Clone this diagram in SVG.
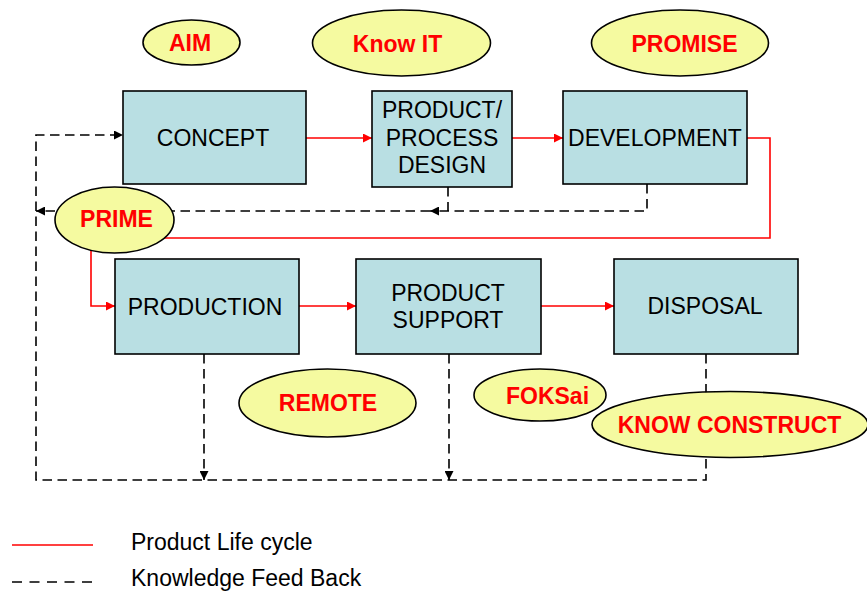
<svg xmlns="http://www.w3.org/2000/svg" width="867" height="591" viewBox="0 0 867 591">
<style>
.box{fill:#B9DFE3;stroke:#000;stroke-width:1.6}
.ell{fill:#F5FAA0;stroke:#000;stroke-width:1.6}
.bt{font-family:"Liberation Sans",Arial,sans-serif;font-size:23px;fill:#000;text-anchor:middle}
.et{font-family:"Liberation Sans",Arial,sans-serif;font-size:23px;font-weight:bold;fill:#FF0000;text-anchor:middle}
.lt{font-family:"Liberation Sans",Arial,sans-serif;font-size:23px;fill:#000}
.red{fill:none;stroke:#FF0000;stroke-width:1.6}
.dash{fill:none;stroke:#000;stroke-width:1.6;stroke-dasharray:9.5 5.5}
</style>
<defs>
<marker id="ar" viewBox="0 0 10 10" refX="10" refY="5" markerWidth="10" markerHeight="9" markerUnits="userSpaceOnUse" orient="auto"><path d="M0,0 L10,5 L0,10 z" fill="#FF0000"/></marker>
<marker id="ak" viewBox="0 0 10 10" refX="10" refY="5" markerWidth="11" markerHeight="9" markerUnits="userSpaceOnUse" orient="auto"><path d="M0,0 L10,5 L0,10 z" fill="#000"/></marker>
</defs>
<g id="connectors">
<path class="red" d="M306,138 H372" marker-end="url(#ar)"/>
<path class="red" d="M512,138 H563" marker-end="url(#ar)"/>
<path class="red" d="M747,138 H770 V238 H91 V306 H115" marker-end="url(#ar)"/>
<path class="red" d="M299,306 H356" marker-end="url(#ar)"/>
<path class="red" d="M541,306 H614" marker-end="url(#ar)"/>
<path class="dash" d="M647,184 V211 H430" marker-end="url(#ak)"/>
<path class="dash" d="M448,187 V211"/>
<path class="dash" d="M430,211 H36" marker-end="url(#ak)"/>
<path class="dash" d="M706,354 V480 H36 V135 H123" marker-end="url(#ak)"/>
<path class="dash" d="M204,354 V480" marker-end="url(#ak)"/>
<path class="dash" d="M449,354 V480" marker-end="url(#ak)"/>
</g>
<g id="concept"><rect class="box" x="123" y="91" width="183" height="93"/><text class="bt" x="213" y="146">CONCEPT</text></g>
<g id="design"><rect class="box" x="372" y="91" width="140" height="96"/><text class="bt" x="442" y="118">PRODUCT/</text><text class="bt" x="442" y="146">PROCESS</text><text class="bt" x="442" y="173">DESIGN</text></g>
<g id="development"><rect class="box" x="563" y="91" width="184" height="93"/><text class="bt" x="655" y="146">DEVELOPMENT</text></g>
<g id="production"><rect class="box" x="115" y="259" width="184" height="95"/><text class="bt" x="205" y="315">PRODUCTION</text></g>
<g id="support"><rect class="box" x="356" y="259" width="185" height="95"/><text class="bt" x="448" y="301">PRODUCT</text><text class="bt" x="448" y="328">SUPPORT</text></g>
<g id="disposal"><rect class="box" x="614" y="259" width="184" height="95"/><text class="bt" x="705" y="314">DISPOSAL</text></g>
<g id="aim"><ellipse class="ell" cx="191.5" cy="42.5" rx="48.5" ry="22.5"/><text class="et" x="190" y="51">AIM</text></g>
<g id="knowit"><ellipse class="ell" cx="401.5" cy="43" rx="89" ry="33"/><text class="et" x="397.5" y="52">Know IT</text></g>
<g id="promise"><ellipse class="ell" cx="680" cy="43" rx="88.5" ry="33"/><text class="et" x="684.5" y="52">PROMISE</text></g>
<g id="prime"><ellipse class="ell" cx="114.5" cy="220" rx="59.5" ry="33"/><text class="et" x="116.5" y="227">PRIME</text></g>
<g id="remote"><ellipse class="ell" cx="327.5" cy="403" rx="88.5" ry="34"/><text class="et" x="328" y="411">REMOTE</text></g>
<g id="foksai"><ellipse class="ell" cx="540" cy="395" rx="66" ry="26"/><text class="et" x="547.5" y="404">FOKSai</text></g>
<g id="knowconstruct"><ellipse class="ell" cx="730" cy="424.5" rx="138" ry="33"/><text class="et" x="729.5" y="433">KNOW CONSTRUCT</text></g>
<g id="legend">
<line x1="12" y1="545" x2="93" y2="545" stroke="#FF0000" stroke-width="1.6"/>
<text class="lt" x="131" y="550">Product Life cycle</text>
<line x1="12" y1="582" x2="93" y2="582" stroke="#000" stroke-width="1.6" stroke-dasharray="10 7.5"/>
<text class="lt" x="131" y="586">Knowledge Feed Back</text>
</g>
</svg>
